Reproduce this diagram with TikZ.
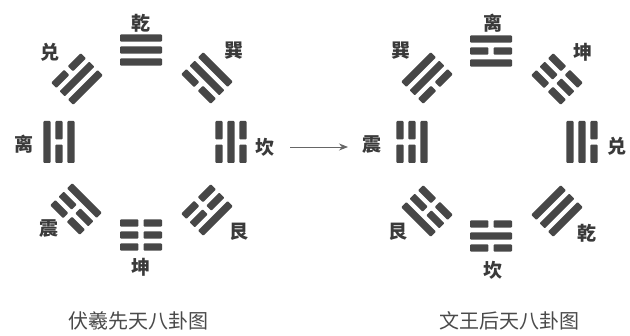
\documentclass[tikz,border=0pt]{standalone}
\usepackage{fontspec}
\newfontfamily\cjk{Noto Sans CJK SC}
\usetikzlibrary{arrows.meta}
\definecolor{barc}{HTML}{474747}
\definecolor{txtc}{HTML}{3A3A3A}
\definecolor{capc}{HTML}{4A4A4A}
\newcommand\gua[4]{%
  \begin{scope}[shift={(#1,#2)},rotate=#3]
    \foreach \b [count=\k] in {#4} {
      \pgfmathsetmacro\yy{(2-\k)*12}
      \ifnum\b=1
        \fill[bar] (-21,\yy-3.7) rectangle (21,\yy+3.7);
      \else
        \fill[bar] (-21,\yy-3.7) rectangle (-2.6,\yy+3.7);
        \fill[bar] (2.6,\yy-3.7) rectangle (21,\yy+3.7);
      \fi
    }
  \end{scope}}
\begin{document}
\begin{tikzpicture}[x=1pt,y=-1pt,
  bar/.style={fill=barc,rounded corners=1pt},
  lab/.style={font=\cjk\bfseries\fontsize{19}{19}\selectfont,text=txtc,inner sep=0pt},
  captext/.style={font=\cjk\fontsize{20}{20}\selectfont,text=capc,inner sep=0pt},
  arr/.style={draw=gray!80!black,line width=0.9pt,-{Stealth[length=9pt,width=7pt]}}]
\fill[white] (0,0) rectangle (630,336);
\useasboundingbox (0,0) rectangle (630,336);
% ---- left: Fu Xi ----
\gua{141}{50}{0}{1,1,1}
\gua{207}{78}{-45}{0,1,1}
\gua{231}{142}{-90}{0,1,0}
\gua{207}{210}{-135}{0,0,1}
\gua{141}{235}{180}{0,0,0}
\gua{76}{209}{135}{1,0,0}
\gua{59}{142}{90}{1,0,1}
\gua{77}{79}{45}{1,1,0}
\node[lab] (lqian) at (141,23) {乾};
\node[lab] (lxun) at (234,51) {巽};
\node[lab] (lkan) at (265,147) {坎};
\node[lab] (lgen) at (239,232) {艮};
\node[lab] (lkun) at (141,267) {坤};
\node[lab] (lzhen) at (49,229) {震};
\node[lab] (lli) at (24,144) {离};
\node[lab] (ldui) at (50,52) {兑};
% ---- right: King Wen ----
\gua{491}{51}{0}{1,0,1}
\gua{557}{79}{-45}{0,0,0}
\gua{582}{142}{-90}{1,1,0}
\gua{557}{211}{-135}{1,1,1}
\gua{491}{236}{180}{0,1,0}
\gua{427}{211}{135}{0,0,1}
\gua{412}{142}{90}{1,0,0}
\gua{427}{78}{45}{0,1,1}
\node[lab] (rli) at (493,23) {离};
\node[lab] (rkun) at (583,52) {坤};
\node[lab] (rdui) at (617,146) {兑};
\node[lab] (rqian) at (587,233) {乾};
\node[lab] (rkan) at (493,270) {坎};
\node[lab] (rgen) at (398,232) {艮};
\node[lab] (rzhen) at (372,145) {震};
\node[lab] (rxun) at (401,51) {巽};
% ---- arrow ----
\coordinate (a1) at (290,147);
\coordinate (a2) at (348,147);
\draw[arr] (a1) -- (a2);
% ---- captions ----
\node[captext] (capl) at (138,321) {伏羲先天八卦图};
\node[captext] (capr) at (509,321) {文王后天八卦图};
\end{tikzpicture}
\end{document}
